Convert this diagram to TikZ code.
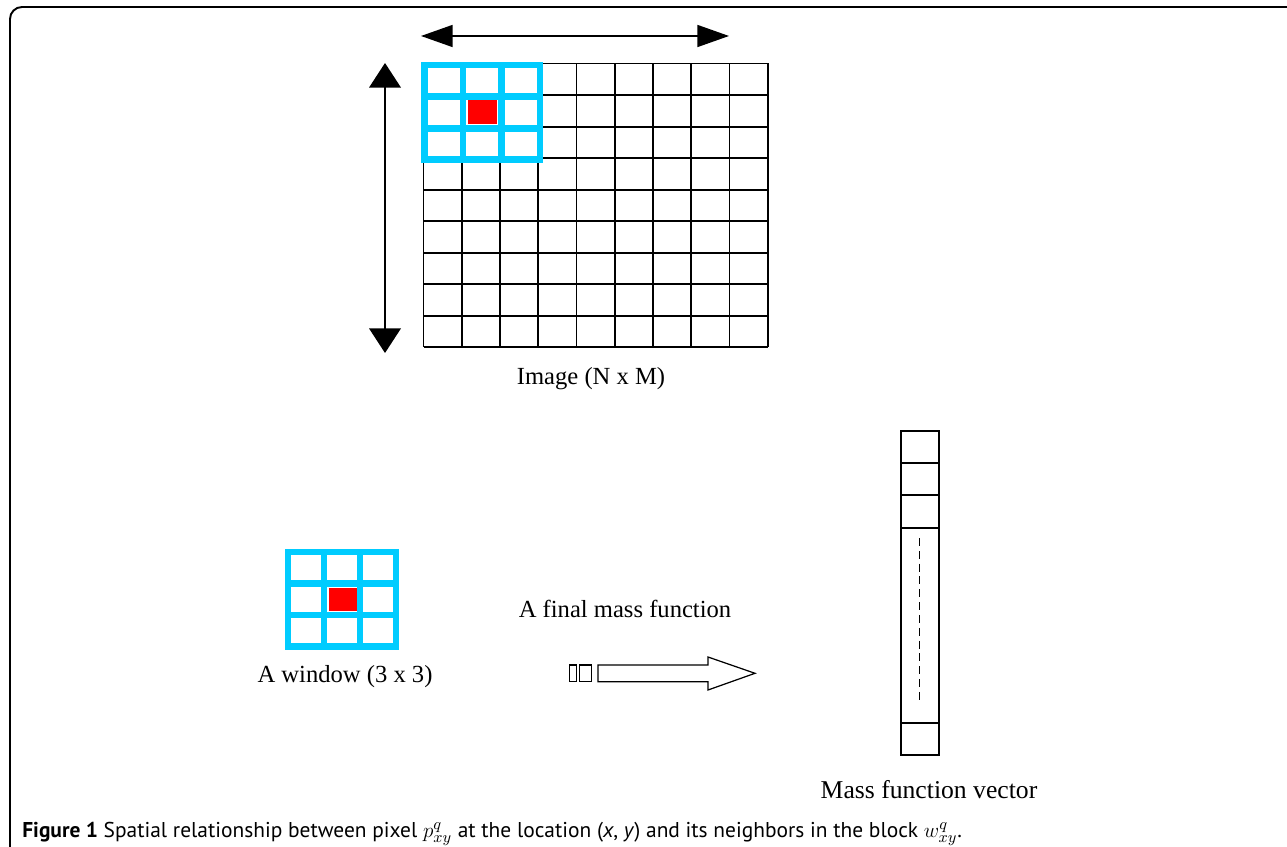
\documentclass[tikz,border=0pt]{standalone}
\usepackage{fontspec}
\setmainfont{Liberation Serif}
\newfontfamily\capfont{PT Sans}
\usepackage{tikz}
\usetikzlibrary{arrows.meta,positioning}
\definecolor{windowcyan}{RGB}{0,204,255}
\definecolor{centrered}{RGB}{255,0,0}

\begin{document}
\begin{tikzpicture}[x=0.02cm, y=-0.02cm, >=Latex,
  every node/.style={font=\fontsize{14}{16}\selectfont},
  gridline/.style={line width=1.1pt},
  winline/.style={line width=3.9pt, windowcyan},
  arrowline/.style={line width=0.9pt}]
 \useasboundingbox (0,0) rectangle (1287,847);
 \draw[line width=1.1pt, rounded corners=0.24cm] (10,847) -- (10,7) -- (1287,7);

 % image grid
 \foreach \i in {0,...,9} {
  \draw[gridline] (423.5+38.25*\i,63.5) -- (423.5+38.25*\i,347.5);
  \draw[gridline] (423.5,63.5+31.55*\i) -- (767.75,63.5+31.55*\i);
 }
 % window on the image
 \fill[centrered] (468,100.5) rectangle (497,124);
 \draw[winline] (424.5,65) rectangle (540,159.8);
 \foreach \i in {1,2} {
  \draw[winline] (424.5+38.5*\i,65) -- (424.5+38.5*\i,159.8);
  \draw[winline] (424.5,65+31.6*\i) -- (540,65+31.6*\i);
 }
 \coordinate (hleft) at (421,36);
 \coordinate (hright) at (729,36);
 \coordinate (vtop) at (385,63);
 \coordinate (vbottom) at (385,353);
 \draw[arrowline, {Triangle[length=18pt,width=12.5pt]}-{Triangle[length=18pt,width=12.5pt]}] (hleft) -- (hright);
 \draw[arrowline, {Triangle[length=14pt,width=18pt]}-{Triangle[length=14pt,width=18pt]}] (vtop) -- (vbottom);
 \node (imglabel) at (591,379) {Image (N x M)};

 % single window
 \fill[centrered] (328.5,587.7) rectangle (357.3,610.7);
 \draw[winline] (288,552) rectangle (396,646.5);
 \foreach \i in {1,2} {
  \draw[winline] (288+36*\i,552) -- (288+36*\i,646.5);
  \draw[winline] (288,552+31.5*\i) -- (396,552+31.5*\i);
 }
 \node (winlabel) at (345,677) {A window (3 x 3)};

 % block arrow
 \node (masslabel) at (625,609) {A final mass function};
 \draw[line width=0.7pt] (569.3,665) rectangle (576.7,681.7);
 \draw[line width=0.7pt] (579.3,665) rectangle (591.7,681.7);
 \draw[line width=0.7pt] (598,665) -- (708,665) -- (708,657) -- (755,673.3)
   -- (708,690) -- (708,681.7) -- (598,681.7) -- cycle;

 % mass function vector
 \draw[gridline] (900.7,431) rectangle (939,755);
 \foreach \yy in {463.3,495.3,527.7,723.3}
  \draw[gridline] (900.7,\yy) -- (939,\yy);
 \coordinate (dashtop) at (919.3,538);
 \coordinate (dashbottom) at (919.3,703);
 \draw[line width=0.8pt, dash pattern=on 4.5pt off 2.8pt] (dashtop) -- (dashbottom);
 \node[font=\fontsize{14.6}{16}\selectfont] (veclabel) at (929,790) {Mass function vector};

 % caption
 \node[anchor=base west, inner sep=0pt, font=\capfont\fontsize{12.2}{14}\selectfont] (caption) at (22,837)
  {\textbf{Figure 1} Spatial relationship between pixel $p^{q}_{xy}$ at the location (\textit{x}, \textit{y}) and its neighbors in the block $w^{q}_{xy}$.};
\end{tikzpicture}
\end{document}
